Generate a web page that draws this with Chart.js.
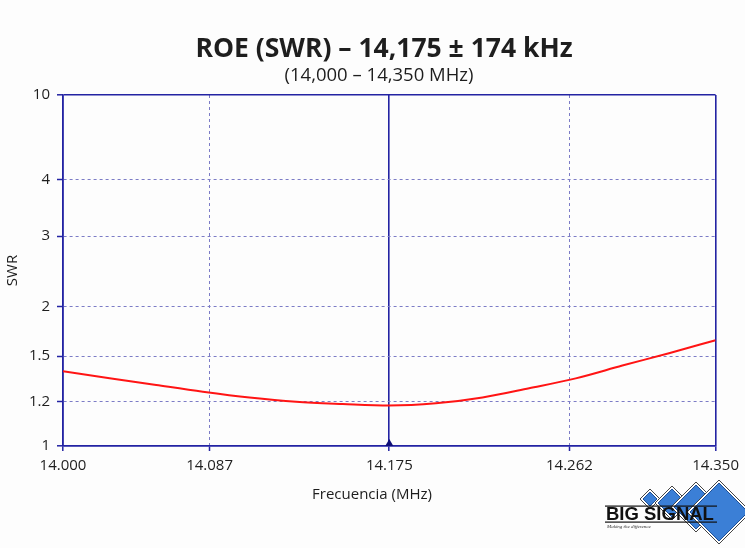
<!DOCTYPE html>
<html>
<head>
<meta charset="utf-8">
<script src="https://cdn.jsdelivr.net/npm/chart.js@4.4.1/dist/chart.umd.min.js"></script>
<style>
  html, body { margin: 0; padding: 0; background: #fdfdfd; }
  #wrap { width: 745px; height: 548px; }
</style>
</head>
<body>
<div id="wrap"><canvas id="swrChart"></canvas></div>
<script>
// ---- data ----
const FREQ_MHZ = [14.000, 14.025, 14.050, 14.075, 14.100, 14.125, 14.150, 14.175,
                  14.200, 14.225, 14.250, 14.275, 14.300, 14.325, 14.350];
const SWR_VALUES = [1.40, 1.355, 1.31, 1.266, 1.228, 1.20, 1.19, 1.183,
                    1.193, 1.228, 1.289, 1.354, 1.438, 1.53, 1.662];
const MARKER_FREQ = 14.175;

const SWR_TICKS = [1, 1.2, 1.5, 2, 3, 4, 10];
const X_TICKS = [14.000, 14.0786, 14.175, 14.2716, 14.350];
const X_TICK_LABELS = ['14.000', '14.087', '14.175', '14.262', '14.350'];

const TITLE = 'ROE (SWR) – 14,175 ± 174 kHz';
const SUBTITLE = '(14,000 – 14,350 MHz)';

const COLORS = {
  frame: '#2323a3',
  grid: '#7c7cc6',
  curve: '#ff1414',
  marker: '#101078',
  text: '#1e1e1e'
};
const FONT = '"Open Sans", "Noto Sans", sans-serif';

// SWR axis of the analyser: not log, not linear. Fraction of height per tick.
const SWR_TICK_FRAC = [0, 0.126, 0.256, 0.3965, 0.598, 0.758, 1];

function swrToFrac(v) {
  if (v <= SWR_TICKS[0]) return 0;
  for (let i = 0; i < SWR_TICKS.length - 1; i++) {
    const a = SWR_TICKS[i], b = SWR_TICKS[i + 1];
    if (v <= b) {
      return SWR_TICK_FRAC[i] + (v - a) / (b - a) * (SWR_TICK_FRAC[i + 1] - SWR_TICK_FRAC[i]);
    }
  }
  return 1;
}

function fracToSwr(f) {
  if (f <= 0) return SWR_TICKS[0];
  for (let i = 0; i < SWR_TICK_FRAC.length - 1; i++) {
    const a = SWR_TICK_FRAC[i], b = SWR_TICK_FRAC[i + 1];
    if (f <= b) {
      return SWR_TICKS[i] + (f - a) / (b - a) * (SWR_TICKS[i + 1] - SWR_TICKS[i]);
    }
  }
  return SWR_TICKS[SWR_TICKS.length - 1];
}

class SwrScale extends Chart.LinearScale {
  buildTicks() {
    return SWR_TICKS.map(v => ({ value: v }));
  }
  getPixelForValue(value) {
    return this.getPixelForDecimal(swrToFrac(value));
  }
  getValueForPixel(pixel) {
    return fracToSwr(this.getDecimalForPixel(pixel));
  }
}
SwrScale.id = 'swr';
SwrScale.defaults = Chart.LinearScale.defaults;
Chart.register(SwrScale);

// solid lines on the frame edges and at the centre frequency
const isSolidX = (c) => c.index === 0 || c.index === X_TICKS.length - 1 || (c.tick && c.tick.value === MARKER_FREQ);
const isSolidY = (c) => c.index === SWR_TICKS.length - 1 || c.index === 0;

const drawLogo = (ctx) => {
  const diamonds = [[650, 499, 10], [672, 503, 17], [696, 507, 25], [719, 512, 32]];
  diamonds.forEach(([cx, cy, r]) => {
    const path = (k) => {
      ctx.beginPath();
      ctx.moveTo(cx, cy - k);
      ctx.lineTo(cx + k, cy);
      ctx.lineTo(cx, cy + k);
      ctx.lineTo(cx - k, cy);
      ctx.closePath();
    };
    path(r);
    ctx.fillStyle = '#ffffff';
    ctx.fill();
    ctx.lineWidth = 1;
    ctx.strokeStyle = '#444';
    ctx.stroke();
    path(r - 3);
    ctx.fillStyle = '#3b7fd6';
    ctx.fill();
    ctx.strokeStyle = '#1d4f96';
    ctx.stroke();
  });
  ctx.fillStyle = '#111';
  ctx.fillRect(605, 505.5, 112, 1.2);
  ctx.fillRect(605, 521.5, 112, 1.2);
  ctx.font = 'bold 18.5px "Liberation Sans", Arial, sans-serif';
  ctx.textAlign = 'left';
  ctx.textBaseline = 'alphabetic';
  ctx.fillText('BIG SIGNAL', 606, 520);
  ctx.font = 'italic 5px "Liberation Serif", serif';
  ctx.fillStyle = '#333';
  ctx.fillText('Making the difference', 607, 528);
};

const textPlugin = {
  id: 'swrTexts',
  beforeDraw(chart) {
    const ctx = chart.ctx;
    ctx.save();
    ctx.fillStyle = '#fdfdfd';
    ctx.fillRect(0, 0, chart.width, chart.height);
    ctx.restore();
  },
  afterDraw(chart) {
    const ctx = chart.ctx;
    ctx.save();
    ctx.fillStyle = COLORS.text;
    ctx.textAlign = 'center';
    ctx.textBaseline = 'alphabetic';
    ctx.font = 'bold 26.5px ' + FONT;
    ctx.fillText(TITLE, 384, 57);
    ctx.font = '18.5px ' + FONT;
    ctx.fillText(SUBTITLE, 379, 81);
    ctx.font = '15px ' + FONT;
    ctx.fillText('Frecuencia (MHz)', 372, 499);
    drawLogo(ctx);
    ctx.restore();
  }
};

const ctx = document.getElementById('swrChart');

const myChart = new Chart(ctx, {
  type: 'line',
  data: {
    datasets: [
      {
        label: 'SWR',
        data: FREQ_MHZ.map((f, i) => ({ x: f, y: SWR_VALUES[i] })),
        borderColor: COLORS.curve,
        borderWidth: 2,
        pointRadius: 0,
        cubicInterpolationMode: 'monotone',
        fill: false
      },
      {
        label: 'Centro',
        data: [{ x: MARKER_FREQ, y: SWR_TICKS[0] }],
        showLine: false,
        pointStyle: 'triangle',
        pointRadius: 7,
        borderWidth: 0,
        backgroundColor: COLORS.marker,
        clip: 0
      }
    ]
  },
  options: {
    responsive: true,
    maintainAspectRatio: false,
    animation: false,
    devicePixelRatio: 1,
    layout: { padding: { top: 95, right: 27, bottom: 0, left: 0 } },
    plugins: {
      legend: { display: false },
      tooltip: { enabled: false },
      title: { display: false }
    },
    scales: {
      x: {
        type: 'linear',
        min: 14.0,
        max: 14.35,
        afterBuildTicks: (scale) => { scale.ticks = X_TICKS.map(v => ({ value: v })); },
        afterFit: (scale) => { scale.height = 102; },
        ticks: {
          autoSkip: false,
          maxRotation: 0,
          padding: 6,
          color: COLORS.text,
          font: { family: FONT, size: 15 },
          callback: (v, i) => X_TICK_LABELS[i]
        },
        grid: {
          color: (c) => isSolidX(c) ? COLORS.frame : COLORS.grid,
          lineWidth: (c) => isSolidX(c) ? 1.6 : 1,
          tickColor: COLORS.frame,
          tickLength: 5,
          tickWidth: 1.5
        },
        border: {
          color: COLORS.frame,
          width: 1.6,
          dash: (c) => isSolidX(c) ? [] : [3, 3]
        }
      },
      y: {
        type: 'swr',
        min: 1,
        max: 10,
        afterFit: (scale) => { scale.width = 63; },
        ticks: {
          autoSkip: false,
          padding: 7,
          color: COLORS.text,
          font: { family: FONT, size: 15 },
          callback: (v) => String(v)
        },
        title: {
          display: true,
          text: 'SWR',
          color: COLORS.text,
          font: { family: FONT, size: 15 },
          padding: { top: 4, bottom: 0 }
        },
        grid: {
          color: (c) => isSolidY(c) ? COLORS.frame : COLORS.grid,
          lineWidth: (c) => isSolidY(c) ? 1.6 : 1,
          tickColor: COLORS.frame,
          tickLength: 6,
          tickWidth: 1.5
        },
        border: {
          color: COLORS.frame,
          width: 1.6,
          dash: (c) => isSolidY(c) ? [] : [3, 3]
        }
      }
    }
  },
  plugins: [textPlugin]
});
</script>
</body>
</html>
